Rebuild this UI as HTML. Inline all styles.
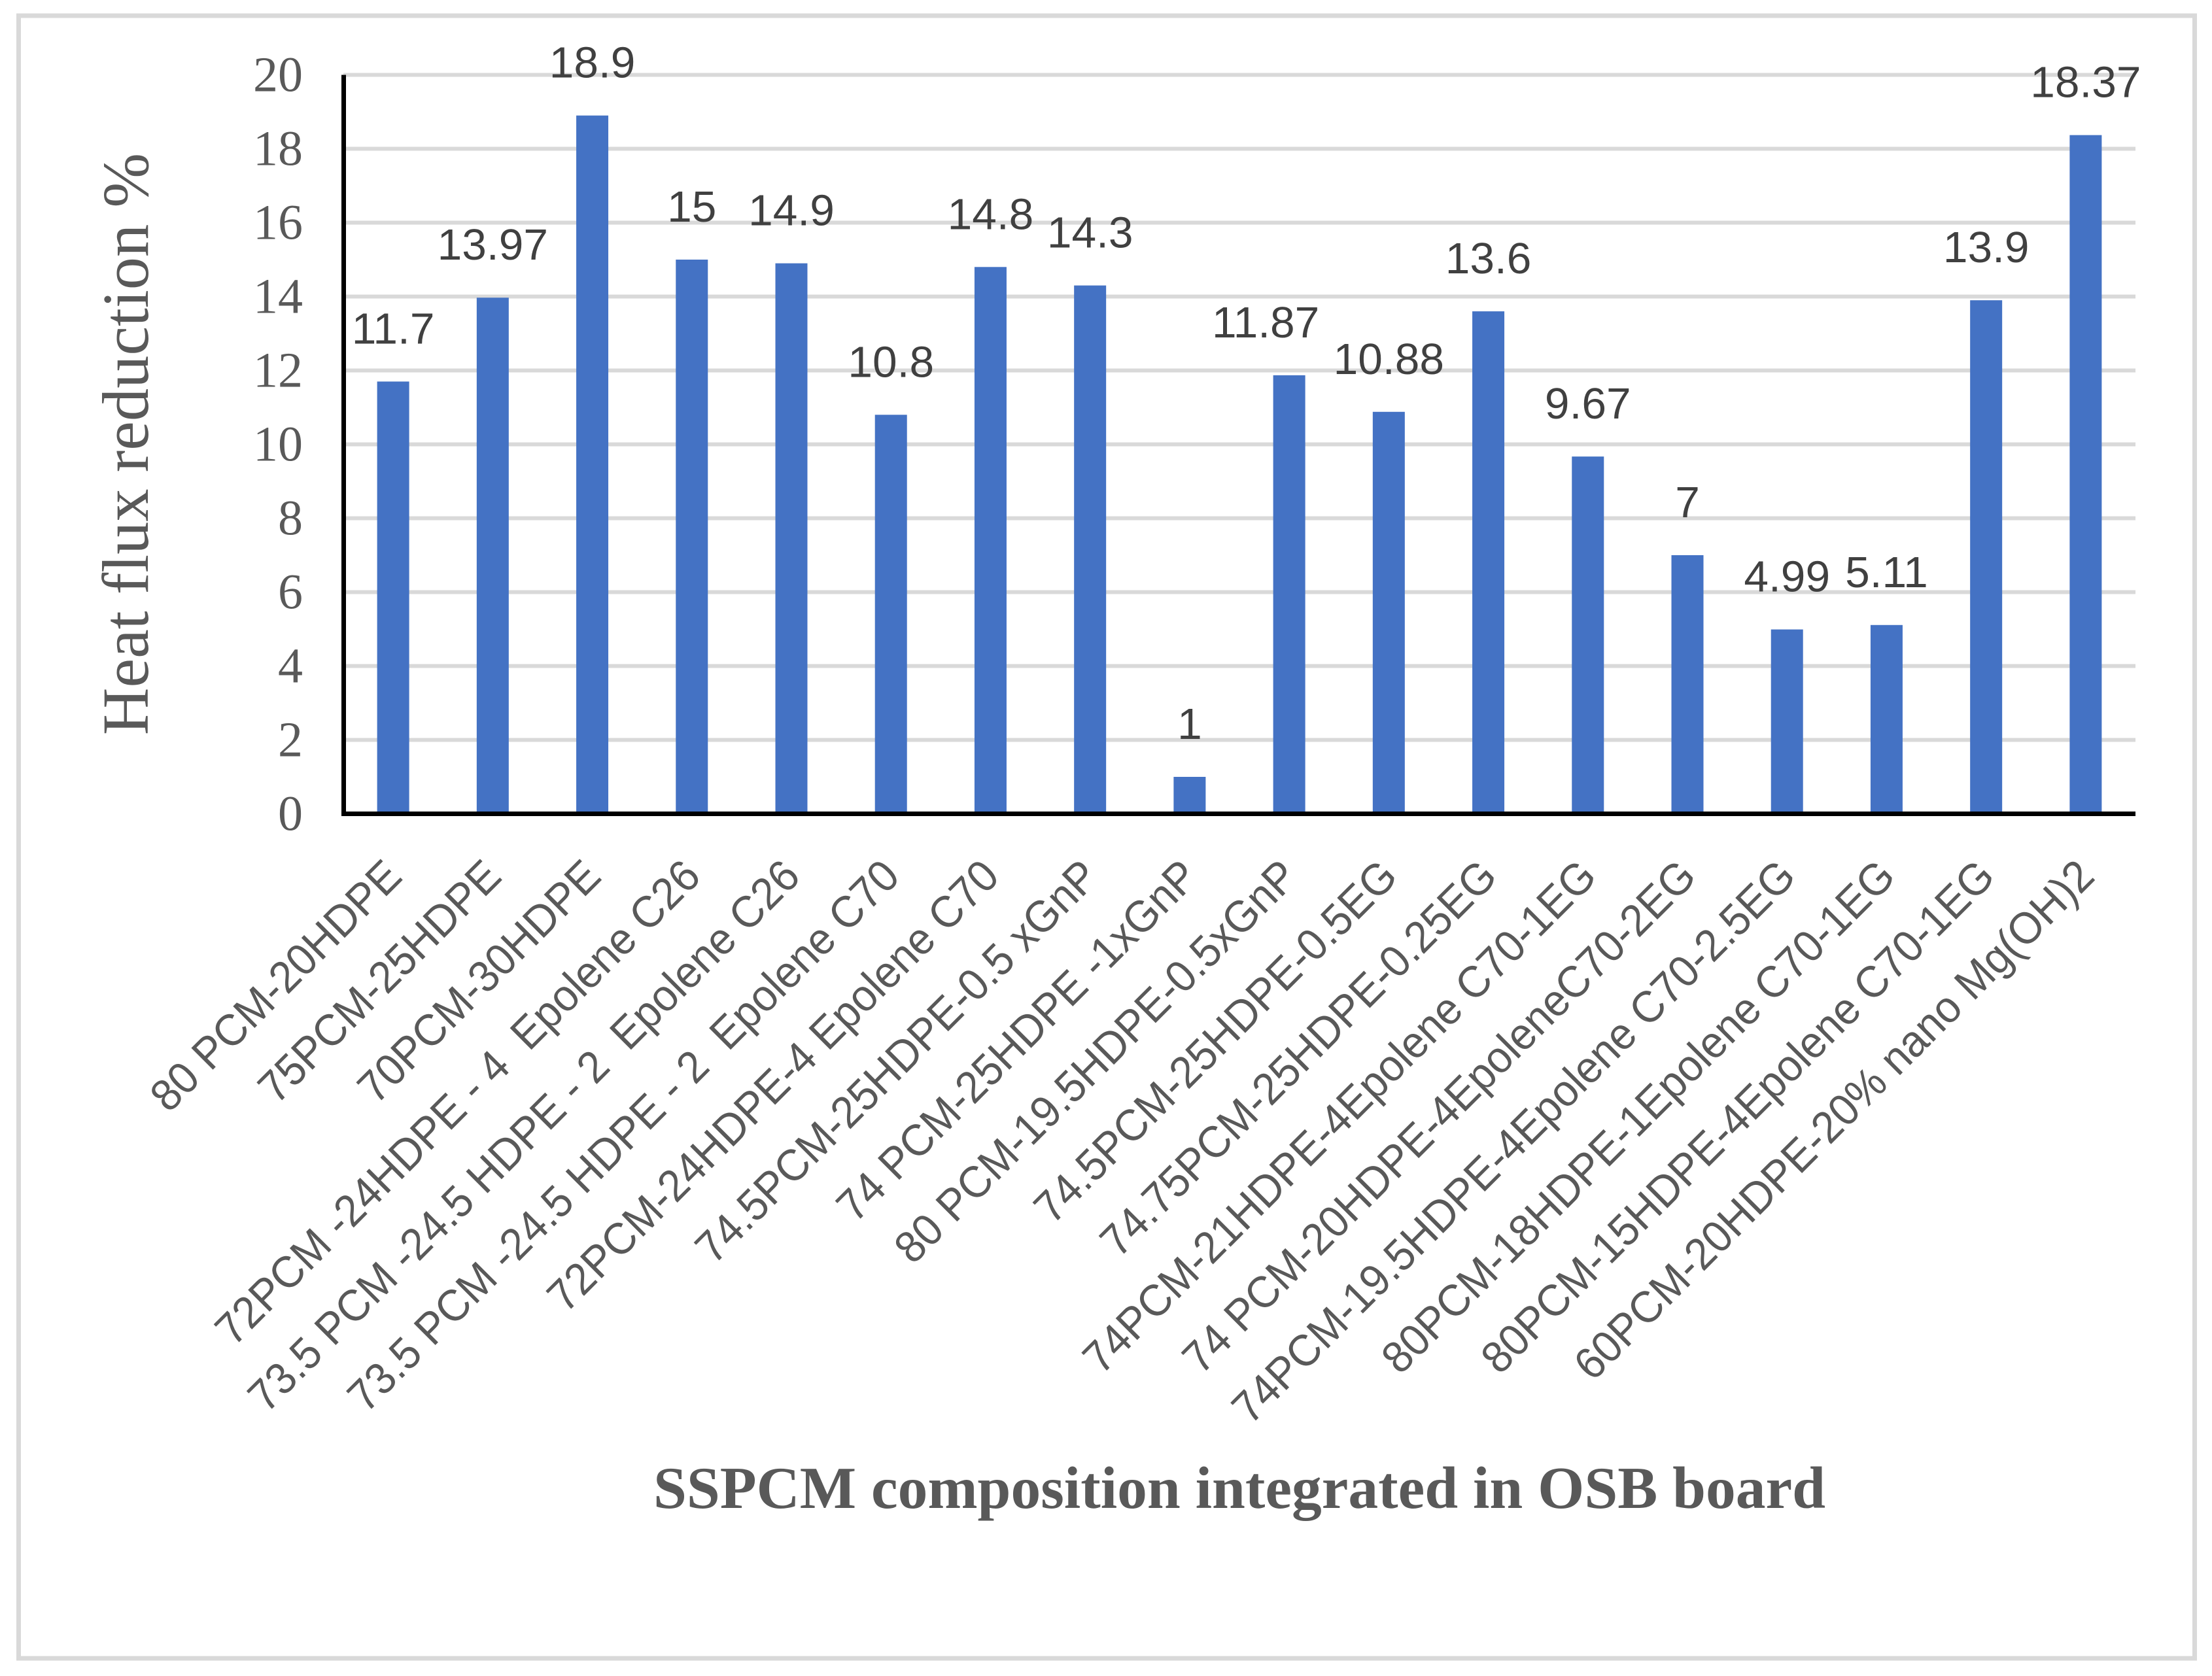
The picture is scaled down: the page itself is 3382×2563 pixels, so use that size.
<!DOCTYPE html>
<html lang="en">
<head>
<meta charset="utf-8">
<title>Heat flux reduction by SSPCM composition</title>
<style>
html,body{margin:0;padding:0;background:#fff;}
#chart{display:block;width:3382px;height:2563px;}
text{white-space:pre;}
</style>
</head>
<body>
<svg id="chart" xmlns="http://www.w3.org/2000/svg" width="3382" height="2563" viewBox="0 0 3382 2563">
  <rect x="28.500" y="24" width="3327" height="2512" fill="#fff" stroke="#D9D9D9" stroke-width="7"/>
  <g id="grid"></g>
  <g id="bars"></g>
  <g id="axes"></g>
  <g id="yticks"></g>
  <g id="xticks"></g>
  <g id="values"></g>
  <text transform="translate(226,679) rotate(-90)" text-anchor="middle" font-family="'Liberation Serif',serif" font-size="100.5" fill="#595959">Heat flux reduction %</text>
  <text x="1895" y="2306" text-anchor="middle" font-family="'Liberation Serif',serif" font-weight="bold" font-size="91.5" fill="#595959">SSPCM composition integrated in OSB board</text>
</svg>
<script>
const categories = [
  "80 PCM-20HDPE",
  "75PCM-25HDPE",
  "70PCM-30HDPE",
  "72PCM -24HDPE - 4  Epolene C26",
  "73.5 PCM -24.5 HDPE - 2  Epolene C26",
  "73.5 PCM -24.5 HDPE - 2  Epolene C70",
  "72PCM-24HDPE-4 Epolene C70",
  "74.5PCM-25HDPE-0.5 xGnP",
  "74 PCM-25HDPE -1xGnP",
  "80 PCM-19.5HDPE-0.5xGnP",
  "74.5PCM-25HDPE-0.5EG",
  "74.75PCM-25HDPE-0.25EG",
  "74PCM-21HDPE-4Epolene C70-1EG",
  "74 PCM-20HDPE-4EpoleneC70-2EG",
  "74PCM-19.5HDPE-4Epolene C70-2.5EG",
  "80PCM-18HDPE-1Epolene C70-1EG",
  "80PCM-15HDPE-4Epolene C70-1EG",
  "60PCM-20HDPE-20% nano Mg(OH)2"
];
const heatFluxReduction = [11.7, 13.97, 18.9, 15, 14.9, 10.8, 14.8, 14.3, 1, 11.87, 10.88, 13.6, 9.67, 7, 4.99, 5.11, 13.9, 18.37];
const yTicks = [0, 2, 4, 6, 8, 10, 12, 14, 16, 18, 20];

const NS = "http://www.w3.org/2000/svg";
const plotLeft = 525, plotRight = 3265, plotBottom = 1244.5, plotTop = 114.5, yMax = 20;
const barWidth = 49;
function xBand(i) { return plotLeft + (i + 0.5) * (plotRight - plotLeft) / categories.length; }
function yScale(v) { return plotBottom - (v / yMax) * (plotBottom - plotTop); }
function make(tag, attrs, parent, txt) {
  const el = document.createElementNS(NS, tag);
  for (const k in attrs) el.setAttribute(k, attrs[k]);
  if (txt !== undefined) el.textContent = txt;
  parent.appendChild(el);
  return el;
}
const gridG = document.getElementById("grid");
const barsG = document.getElementById("bars");
const axesG = document.getElementById("axes");
const yticksG = document.getElementById("yticks");
const xticksG = document.getElementById("xticks");
const valuesG = document.getElementById("values");

yTicks.forEach(function (t) {
  if (t !== 0) {
    const line = make("rect", { x: plotLeft, y: yScale(t) - 3, width: plotRight - plotLeft, height: 6, fill: "#D9D9D9" }, gridG);
    
    
  }
  const lab = make("text", { x: 463, y: yScale(t) + 25, "text-anchor": "end", "font-family": "'Liberation Serif',serif", "font-size": 76, fill: "#595959" }, yticksG, String(t));
  
  
});

heatFluxReduction.forEach(function (v, i) {
  const cx = xBand(i);
  const top = yScale(v);
  const bar = make("rect", { x: cx - barWidth / 2, y: top, width: barWidth, height: plotBottom - top, fill: "#4472C4" }, barsG);
  
  

  const shift = i === 9 ? -36 : 0;
  const val = make("text", { transform: "translate(" + (cx + shift) + "," + (top - 58) + ") scale(1.01,1)", "text-anchor": "middle", "font-family": "'Liberation Sans',sans-serif", "font-size": 67, fill: "#404040" }, valuesG, String(v));
  
  
});

categories.forEach(function (c, i) {
  const x = xBand(i) + 16.6;
  const y = 1343.6;
  const lab = make("text", { transform: "translate(" + x + "," + y + ") rotate(-45) scale(0.955,1)", "text-anchor": "end", "font-family": "'Liberation Sans',sans-serif", "font-size": 68, fill: "#595959" }, xticksG, c);
  
  
});

const yAxisLine = make("rect", { x: 522, y: plotTop, width: 7, height: plotBottom - plotTop + 3.5, fill: "#000" }, axesG);


const xAxisLine = make("rect", { x: 522, y: plotBottom - 3.5, width: plotRight - 522, height: 7, fill: "#000" }, axesG);


</script>
</body>
</html>
